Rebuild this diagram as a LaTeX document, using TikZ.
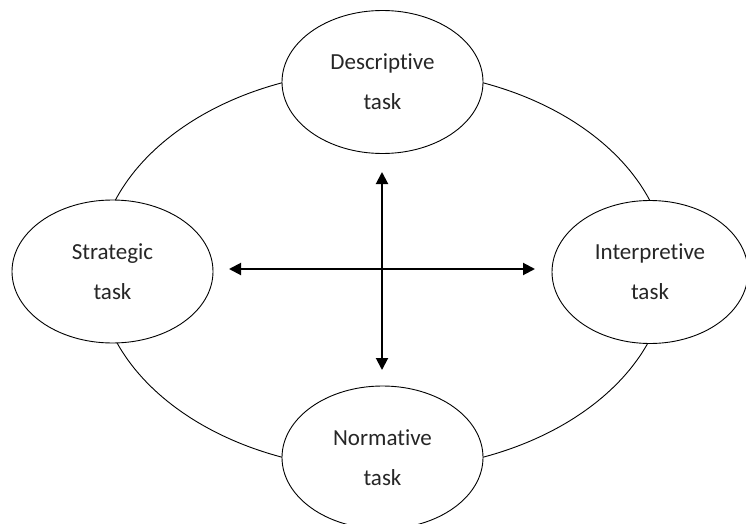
\documentclass[tikz,border=0pt]{standalone}
\usepackage{fontspec}
\setmainfont[Ligatures={NoCommon}]{Carlito}
\usetikzlibrary{shapes.geometric,arrows.meta}
\tikzset{
  taskbox/.style={ellipse, draw, line width=0.9pt, fill=white, inner sep=0pt,
    minimum width=201pt, minimum height=143pt, align=center,
    font=\fontsize{23}{40}\selectfont, text=black!85},
  ring/.style={line width=0.9pt},
  arr/.style={line width=2pt, {Triangle[length=12pt,width=12pt]}-{Triangle[length=12pt,width=12pt]}}
}
\begin{document}
\begin{tikzpicture}[x=1pt,y=-1pt]
\useasboundingbox (0,0) rectangle (746,524);
\fill[white] (0,0) rectangle (746,524);
\draw[ring] (382.5,270) ellipse [x radius=285, y radius=200];
\node[taskbox] (desc) at (382.5,82) {Descriptive\\task};
\node[taskbox] (strat) at (112.5,271.5) {Strategic\\task};
\node[taskbox, minimum width=196pt] (interp) at (650,272) {Interpretive\\task};
\node[taskbox] (norm) at (382.5,457.5) {Normative\\task};
\coordinate (up) at (382,172);
\coordinate (down) at (382,370);
\coordinate (left) at (229,269);
\coordinate (right) at (535,269);
\draw[arr] (up) -- (down);
\draw[arr] (left) -- (right);
\end{tikzpicture}
\end{document}
